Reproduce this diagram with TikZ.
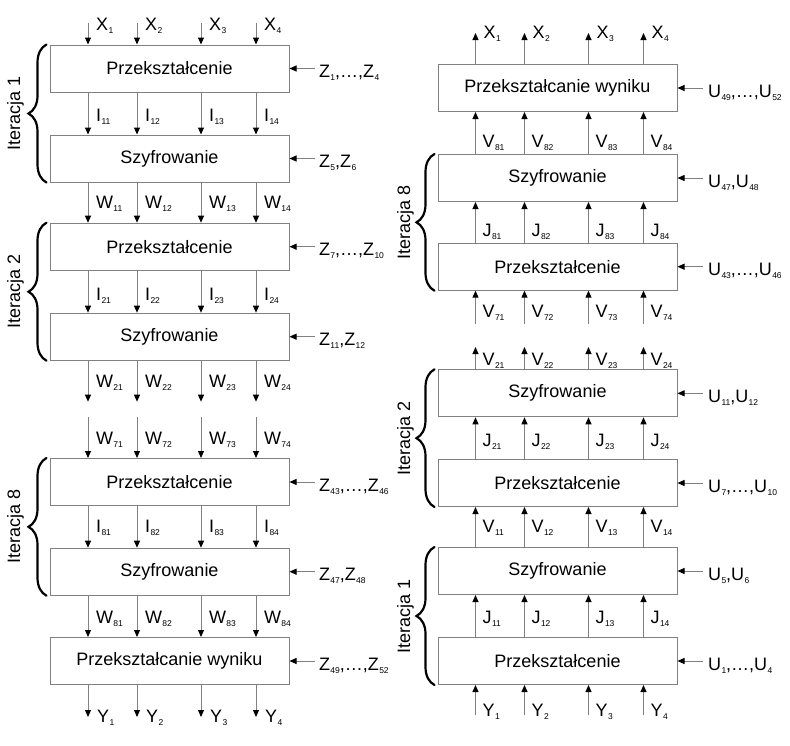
\documentclass[tikz,border=0pt]{standalone}
\usepackage{fontspec}
\setmainfont{Liberation Sans}
\usetikzlibrary{arrows.meta,decorations.pathreplacing}
\newcommand\lb[2]{#1\kern0.3pt\raisebox{-3pt}{\fontsize{8.5}{9}\selectfont #2}}
\begin{document}
\begin{tikzpicture}[x=1pt,y=-1pt,
 box/.style={draw=gray, line width=1pt, minimum width=239pt, minimum height=47pt, inner sep=0pt, font=\fontsize{18}{20}\selectfont},
 arr/.style={draw=gray, line width=1pt, -{Triangle[length=7pt,width=6pt,color=black]}},
 lab/.style={anchor=base west, inner sep=0pt, font=\fontsize{18}{20}\selectfont},
 brc/.style={decorate, decoration={brace, amplitude=18pt}, line width=2.2pt, line cap=round},
 itlab/.style={rotate=90, font=\fontsize{18}{20}\selectfont, inner sep=0pt}]
\useasboundingbox (0,0) rectangle (790,745);
% left column
\node[box] (L1) at (169.5,68.5) {Przekształcenie};
\node[box] (L2) at (169.5,158.5) {Szyfrowanie};
\node[box] (L3) at (169.5,246.7) {Przekształcenie};
\node[box] (L4) at (169.5,336.7) {Szyfrowanie};
\node[box] (L5) at (169.5,482) {Przekształcenie};
\node[box] (L6) at (169.5,571.7) {Szyfrowanie};
\node[box] (L7) at (169.5,661) {Przekształcanie wyniku};
% right column
\node[box] (R1) at (557.5,88) {Przekształcanie wyniku};
\node[box] (R2) at (557.5,178) {Szyfrowanie};
\node[box] (R3) at (557.5,266.7) {Przekształcenie};
\node[box] (R4) at (557.5,393.3) {Szyfrowanie};
\node[box] (R5) at (557.5,483) {Przekształcenie};
\node[box] (R6) at (557.5,571) {Szyfrowanie};
\node[box] (R7) at (557.5,661) {Przekształcenie};
% vertical connectors
\foreach \o [count=\k] in {38,87,151,206}{
  % left
  \coordinate (lx\k) at (50+\o,23);
  \draw[arr] (lx\k) -- (L1.north -| lx\k);
  \node[lab] at (58+\o,30.5) {\lb{X}{\k}};
  \draw[arr] (L1.south -| lx\k) -- (L2.north -| lx\k);
  \node[lab] at (58+\o,121.5) {\lb{I}{1\k}};
  \draw[arr] (L2.south -| lx\k) -- (L3.north -| lx\k);
  \node[lab] at (58+\o,208) {\lb{W}{1\k}};
  \draw[arr] (L3.south -| lx\k) -- (L4.north -| lx\k);
  \node[lab] at (58+\o,300.5) {\lb{I}{2\k}};
  \coordinate (lwa\k) at (50+\o,401.7);
  \draw[arr] (L4.south -| lx\k) -- (lwa\k);
  \node[lab] at (58+\o,387.5) {\lb{W}{2\k}};
  \coordinate (lwb\k) at (50+\o,416.7);
  \draw[arr] (lwb\k) -- (L5.north -| lx\k);
  \node[lab] at (58+\o,444) {\lb{W}{7\k}};
  \draw[arr] (L5.south -| lx\k) -- (L6.north -| lx\k);
  \node[lab] at (58+\o,532.5) {\lb{I}{8\k}};
  \draw[arr] (L6.south -| lx\k) -- (L7.north -| lx\k);
  \node[lab] at (58+\o,623.5) {\lb{W}{8\k}};
  \coordinate (ly\k) at (50+\o,717);
  \draw[arr] (L7.south -| lx\k) -- (ly\k);
  \node[lab] at (59+\o,722.5) {\lb{Y}{\k}};
  % right
  \coordinate (rx\k) at (437.5+\o,33);
  \draw[arr] (R1.north -| rx\k) -- (rx\k);
  \node[lab] at (445.5+\o,38.5) {\lb{X}{\k}};
  \draw[arr] (R2.north -| rx\k) -- (R1.south -| rx\k);
  \node[lab] at (444.5+\o,147) {\lb{V}{8\k}};
  \draw[arr] (R3.north -| rx\k) -- (R2.south -| rx\k);
  \node[lab] at (444.5+\o,236.5) {\lb{J}{8\k}};
  \coordinate (rva\k) at (437.5+\o,324);
  \draw[arr] (rva\k) -- (R3.south -| rx\k);
  \node[lab] at (444.5+\o,317) {\lb{V}{7\k}};
  \coordinate (rvb\k) at (437.5+\o,347);
  \draw[arr] (R4.north -| rx\k) -- (rvb\k);
  \node[lab] at (444.5+\o,365) {\lb{V}{2\k}};
  \draw[arr] (R5.north -| rx\k) -- (R4.south -| rx\k);
  \node[lab] at (444.5+\o,446.5) {\lb{J}{2\k}};
  \draw[arr] (R6.north -| rx\k) -- (R5.south -| rx\k);
  \node[lab] at (444.5+\o,532) {\lb{V}{1\k}};
  \draw[arr] (R7.north -| rx\k) -- (R6.south -| rx\k);
  \node[lab] at (444.5+\o,623.5) {\lb{J}{1\k}};
  \coordinate (ry\k) at (437.5+\o,715);
  \draw[arr] (ry\k) -- (R7.south -| rx\k);
  \node[lab] at (444.5+\o,716.5) {\lb{Y}{\k}};
}
% key inputs
\foreach \n/\t in {L1/{\lb{Z}{1},…,\lb{Z}{4}}, L2/{\lb{Z}{5},\lb{Z}{6}},
  L3/{\lb{Z}{7},…,\lb{Z}{10}}, L4/{\lb{Z}{11},\lb{Z}{12}},
  L5/{\lb{Z}{43},…,\lb{Z}{46}}, L6/{\lb{Z}{47},\lb{Z}{48}},
  L7/{\lb{Z}{49},…,\lb{Z}{52}}}{
  \coordinate (\n k) at ([xshift=25.5pt]\n.east);
  \draw[arr] (\n k) -- (\n.east);
  \node[lab] at ([xshift=4pt,yshift=-9pt]\n k) {\t};
}
\foreach \n/\t in {R1/{\lb{U}{49},…,\lb{U}{52}}, R2/{\lb{U}{47},\lb{U}{48}},
  R3/{\lb{U}{43},…,\lb{U}{46}}, R4/{\lb{U}{11},\lb{U}{12}},
  R5/{\lb{U}{7},…,\lb{U}{10}}, R6/{\lb{U}{5},\lb{U}{6}},
  R7/{\lb{U}{1},…,\lb{U}{4}}}{
  \coordinate (\n k) at ([xshift=25.5pt]\n.east);
  \draw[arr] (\n k) -- (\n.east);
  \node[lab] at ([xshift=5pt,yshift=-9pt]\n k) {\t};
}
% braces
\draw[brc] ([xshift=-3pt]L2.south west) -- ([xshift=-3pt]L1.north west);
\draw[brc] ([xshift=-3pt]L4.south west) -- ([xshift=-3pt]L3.north west);
\draw[brc] ([xshift=-3pt]L6.south west) -- ([xshift=-3pt]L5.north west);
\draw[brc] ([xshift=-3pt]R3.south west) -- ([xshift=-3pt]R2.north west);
\draw[brc] ([xshift=-3pt]R5.south west) -- ([xshift=-3pt]R4.north west);
\draw[brc] ([xshift=-3pt]R7.south west) -- ([xshift=-3pt]R6.north west);
\node[itlab] (itl1) at (15.5,113.5) {Iteracja 1};
\node[itlab] (itl2) at (15.5,291.7) {Iteracja 2};
\node[itlab] (itl8) at (15.5,526.7) {Iteracja 8};
\node[itlab] (itr8) at (405.5,222.3) {Iteracja 8};
\node[itlab] (itr2) at (405.5,438.3) {Iteracja 2};
\node[itlab] (itr1) at (405.5,616) {Iteracja 1};
\end{tikzpicture}
\end{document}
